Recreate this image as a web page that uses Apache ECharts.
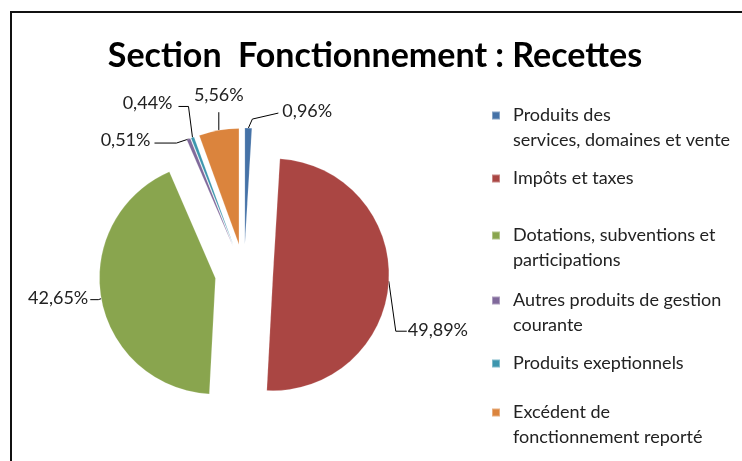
<!DOCTYPE html>
<html>
<head>
<meta charset="utf-8">
<script src="https://cdn.jsdelivr.net/npm/echarts@6/dist/echarts.min.js"></script>
<style>
  html, body { margin: 0; padding: 0; background: #fff; }
  #chart { width: 742px; height: 461px; }
</style>
</head>
<body>
<div id="chart"></div>
<script>
// ---- data ----
const titleText = 'Section  Fonctionnement : Recettes';
const categories = [
  'Produits des services, domaines et vente',
  'Impôts et taxes',
  'Dotations, subventions et participations',
  'Autres produits de gestion courante',
  'Produits exeptionnels',
  'Excédent de fonctionnement reporté'
];
const legendLines = [
  ['Produits des', 'services, domaines et vente'],
  ['Impôts et taxes', ''],
  ['Dotations, subventions et', 'participations'],
  ['Autres produits de gestion', 'courante'],
  ['Produits exeptionnels', ''],
  ['Excédent de', 'fonctionnement reporté']
];
const values = [0.96, 49.89, 42.65, 0.51, 0.44, 5.56];
const colors = ['#4572A7', '#AA4643', '#89A54E', '#80699B', '#3D96AE', '#DB843D'];

// ---- label styling (offsets relative to slice edge) ----
// shift: 'up' / 'down' moves the text by lh/2 using a blank line
const labelCfg = [
  { pad: [0, 0, 0, 34], shift: 'up', lh: 33, line: [[0, 0], [4, -9], [30, -15]] },
  { pad: [0, 0, 0, 19], shift: 'down', lh: 98, line: [[0, 0], [7, 50], [18, 50]] },
  { pad: [0, 13, 0, 0], shift: null, lh: 20, line: [[0, 0], [-3, 1], [-11, 1]] },
  { pad: [0, 38, 0, 0], shift: 'down', lh: 3, line: [[0, 0], [-12, 4], [-34, 4]] },
  { pad: [0, 20, 0, 0], shift: 'up', lh: 68, line: [[0, 0], [-4, -31], [-14, -31]] },
  { pad: [0, 0, 0, 0], shift: 'up', lh: 70, line: [[0, 0], [0, -18]], align: 'center' }
];

const FONT = 'Lato, "Open Sans", sans-serif';

const chart = echarts.init(document.getElementById('chart'), null, { renderer: 'canvas' });

const legendTops = [78, 141, 198, 263, 326, 375];
const legends = categories.map((name, i) => ({
  orient: 'vertical',
  left: 491,
  top: legendTops[i],
  padding: 0,
  data: [name],
  selectedMode: false,
  icon: 'rect',
  itemWidth: 8,
  itemHeight: 8,
  itemGap: 0,
  textStyle: { fontFamily: FONT, fontSize: 18, color: '#222', lineHeight: 25, padding: [0, 0, 0, 8] },
  formatter: function () {
    const l = legendLines[i];
    return '\n' + l[0] + '\n' + l[1];
  }
}));

const option = {
  animation: false,
  backgroundColor: '#fff',
  title: {
    text: titleText,
    left: 370,
    textAlign: 'center',
    top: 34,
    textStyle: { fontFamily: FONT, fontSize: 34, fontWeight: 'bold', color: '#000' }
  },
  legend: legends,
  graphic: [
    { type: 'line', shape: { x1: 11, y1: 12, x2: 742, y2: 12 }, style: { stroke: '#111', lineWidth: 2 } },
    { type: 'line', shape: { x1: 11, y1: 11, x2: 11, y2: 461 }, style: { stroke: '#111', lineWidth: 2 } }
  ],
  series: [{
    type: 'pie',
    center: [244, 273],
    radius: 116,
    startAngle: 90,
    clockwise: true,
    selectedMode: 'multiple',
    selectedOffset: 29,
    avoidLabelOverlap: false,
    emphasis: { disabled: true },
    itemStyle: { borderColor: 'rgba(255,255,255,0.35)', borderWidth: 0.5 },
    label: {
      show: true,
      position: 'outside',
      fontFamily: FONT,
      fontSize: 18,
      color: '#222',
      distanceToLabelLine: 0,
      formatter: p => {
        const t = p.value.toFixed(2).replace('.', ',') + '%';
        const s = labelCfg[p.dataIndex].shift;
        if (s === 'up') return t + '\n';
        if (s === 'down') return '\n' + t;
        return t;
      }
    },
    labelLine: {
      show: true,
      length: 0,
      length2: 0,
      lineStyle: { color: '#000', width: 1 }
    },
    labelLayout: function (params) {
      const cfg = labelCfg[params.dataIndex];
      const pts = params.labelLinePoints;
      const out = {};
      if (cfg.align) out.align = cfg.align;
      if (pts && pts.length) {
        const p0 = pts[0];
        out.labelLinePoints = cfg.line.map(d => [p0[0] + d[0], p0[1] + d[1]]);
      }
      return out;
    },
    data: categories.map((name, i) => ({
      name: name,
      value: values[i],
      selected: true,
      itemStyle: { color: colors[i] },
      label: { padding: labelCfg[i].pad, lineHeight: labelCfg[i].lh }
    }))
  }]
};
chart.setOption(option);
</script>
</body>
</html>
